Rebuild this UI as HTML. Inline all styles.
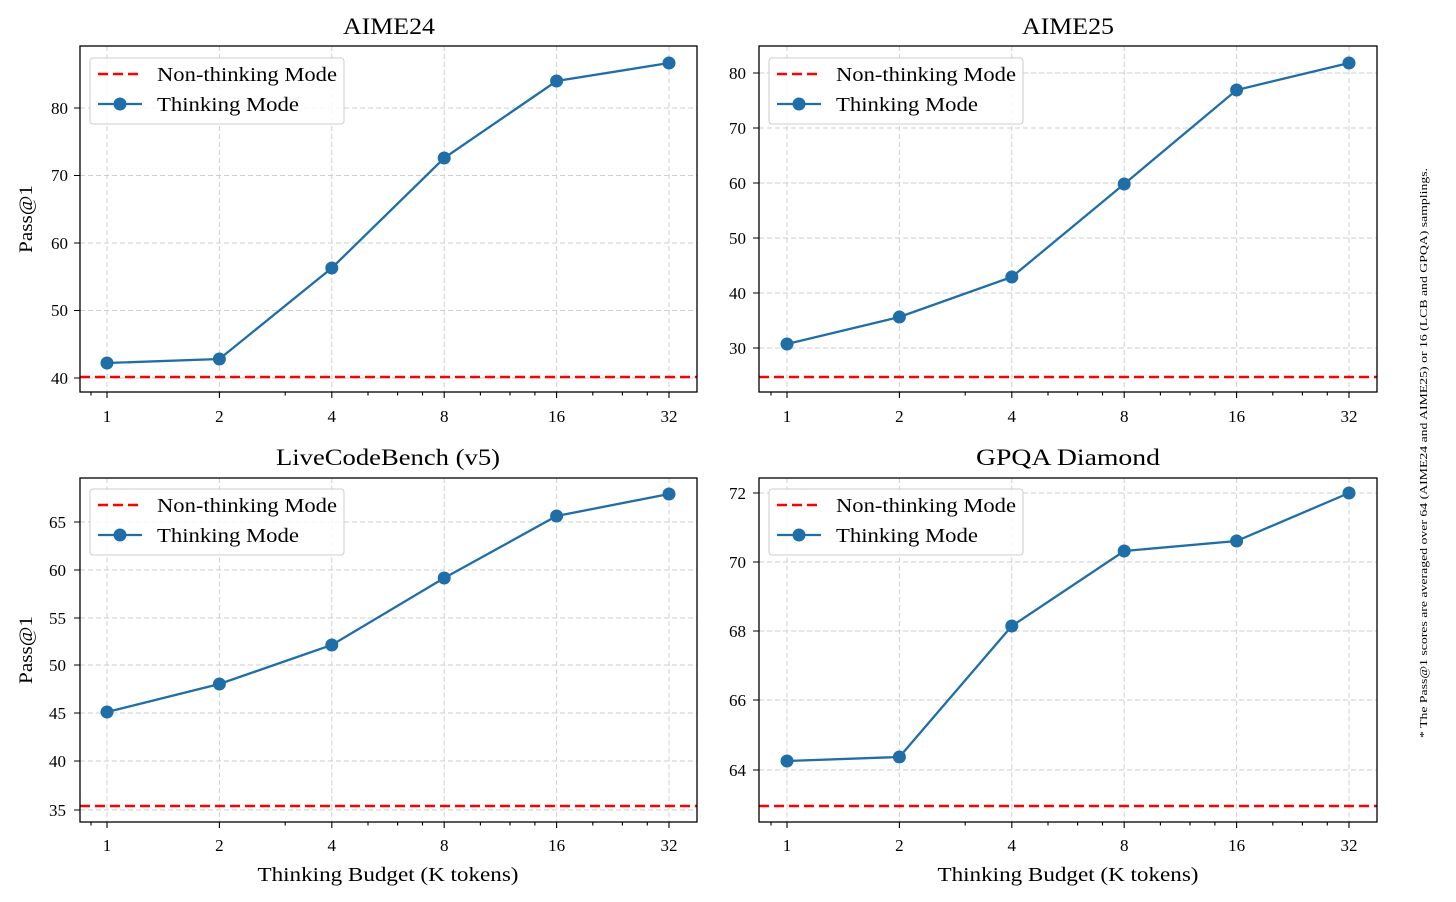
<!DOCTYPE html>
<html><head><meta charset="utf-8"><style>
body{margin:0;background:#fff}
svg{display:block;font-family:"Liberation Serif","DejaVu Serif",serif}
.g{stroke:#cfcfcf;stroke-width:1;stroke-dasharray:5,3}
.ax{fill:none;stroke:#000;stroke-width:1.3}
.tk{stroke:#000;stroke-width:1.1}
.tl{font-size:17px;text-anchor:middle}
.yl{font-size:17px;text-anchor:end}
.ti{font-size:23px;text-anchor:middle}
.rd{stroke:#f00;stroke-width:2.5;stroke-dasharray:10,5}
.ln{fill:none;stroke:#1f6ea8;stroke-width:2.3}
.mk{fill:#1f6ea8}
.lg{fill:#fff;fill-opacity:.85;stroke:#ccc;stroke-width:1}
.lt{font-size:20px}
</style></head><body>
<svg width="1456" height="902" viewBox="0 0 1456 902">
<defs>
<g id="xg">
<line class="g" x1="107" y1="0" x2="107" y2="346"/><line class="g" x1="219.4" y1="0" x2="219.4" y2="346"/><line class="g" x1="331.8" y1="0" x2="331.8" y2="346"/><line class="g" x1="444.2" y1="0" x2="444.2" y2="346"/><line class="g" x1="556.6" y1="0" x2="556.6" y2="346"/><line class="g" x1="669" y1="0" x2="669" y2="346"/>
</g>
<g id="xt">
<path class="tk" d="M107 346v6M219.4 346v6M331.8 346v6M444.2 346v6M556.6 346v6M669 346v6M91 346v3.5M285.2 346v3.5M368 346v3.5M397.6 346v3.5M422.5 346v3.5M480.4 346v3.5M510 346v3.5M534.9 346v3.5M592.8 346v3.5M622.4 346v3.5M647.3 346v3.5"/>
</g>
<g id="leg">
<rect class="lg" x="0" y="0" width="254" height="66" rx="3"/>
<line x1="8" y1="16" x2="52" y2="16" stroke="#f00" stroke-width="2.5" stroke-dasharray="10,5"/>
<line x1="8" y1="46" x2="52" y2="46" stroke="#1f6ea8" stroke-width="2.3"/>
<circle cx="30" cy="46" r="6.5" fill="#1f6ea8"/>
</g>
</defs>

<!-- Panel 1 -->
<g transform="translate(0,46)"><use href="#xg"/><use href="#xt"/></g>
<path class="g" d="M80 108H697M80 175.5H697M80 243H697M80 310.5H697M80 378H697"/>
<line class="rd" x1="80" y1="377" x2="697" y2="377"/>
<polyline class="ln" points="107,363 219.4,359 331.8,268 444.2,158 556.6,81 669,63"/>
<g class="mk"><circle cx="107" cy="363" r="6.5"/><circle cx="219.4" cy="359" r="6.5"/><circle cx="331.8" cy="268" r="6.5"/><circle cx="444.2" cy="158" r="6.5"/><circle cx="556.6" cy="81" r="6.5"/><circle cx="669" cy="63" r="6.5"/></g>
<rect class="ax" x="80" y="46" width="617" height="346"/>
<path class="tk" d="M74 108h6M74 175.5h6M74 243h6M74 310.5h6M74 378h6"/>
<g class="yl"><text x="68" y="114">80</text><text x="68" y="181">70</text><text x="68" y="249">60</text><text x="68" y="316">50</text><text x="68" y="384">40</text></g>
<g class="tl"><text x="107" y="422">1</text><text x="219.4" y="422">2</text><text x="331.8" y="422">4</text><text x="444.2" y="422">8</text><text x="556.6" y="422">16</text><text x="669" y="422">32</text></g>
<text class="ti" x="389" y="34" textLength="92" lengthAdjust="spacingAndGlyphs">AIME24</text>
<text font-size="19" transform="translate(32,219) rotate(-90)" text-anchor="middle" textLength="68" lengthAdjust="spacingAndGlyphs">Pass@1</text>
<use href="#leg" x="90" y="58"/>
<text class="lt" x="157" y="81" textLength="180" lengthAdjust="spacingAndGlyphs">Non-thinking Mode</text><text class="lt" x="157" y="111" textLength="142" lengthAdjust="spacingAndGlyphs">Thinking Mode</text>

<!-- Panel 2 -->
<g transform="translate(680,46)"><use href="#xg"/><use href="#xt"/></g>
<path class="g" d="M759 73H1377M759 128H1377M759 183H1377M759 238H1377M759 293H1377M759 348H1377"/>
<line class="rd" x1="759" y1="377" x2="1377" y2="377"/>
<polyline class="ln" points="787,344 899.4,317 1011.8,277 1124.2,184 1236.6,90 1349,63"/>
<g class="mk"><circle cx="787" cy="344" r="6.5"/><circle cx="899.4" cy="317" r="6.5"/><circle cx="1011.8" cy="277" r="6.5"/><circle cx="1124.2" cy="184" r="6.5"/><circle cx="1236.6" cy="90" r="6.5"/><circle cx="1349" cy="63" r="6.5"/></g>
<rect class="ax" x="759" y="46" width="618" height="346"/>
<path class="tk" d="M753 73h6M753 128h6M753 183h6M753 238h6M753 293h6M753 348h6"/>
<g class="yl"><text x="746" y="79">80</text><text x="746" y="134">70</text><text x="746" y="189">60</text><text x="746" y="244">50</text><text x="746" y="299">40</text><text x="746" y="354">30</text></g>
<g class="tl"><text x="787" y="422">1</text><text x="899.4" y="422">2</text><text x="1011.8" y="422">4</text><text x="1124.2" y="422">8</text><text x="1236.6" y="422">16</text><text x="1349" y="422">32</text></g>
<text class="ti" x="1068" y="34" textLength="92" lengthAdjust="spacingAndGlyphs">AIME25</text>
<use href="#leg" x="769" y="58"/>
<text class="lt" x="836" y="81" textLength="180" lengthAdjust="spacingAndGlyphs">Non-thinking Mode</text><text class="lt" x="836" y="111" textLength="142" lengthAdjust="spacingAndGlyphs">Thinking Mode</text>

<!-- Panel 3 -->
<g transform="translate(0,478) scale(1,0.994)"><use href="#xg"/></g>
<g transform="translate(0,476)"><use href="#xt"/></g>
<path class="g" d="M80 522H697M80 570H697M80 618H697M80 665H697M80 713H697M80 761H697M80 810H697"/>
<line class="rd" x1="80" y1="806" x2="697" y2="806"/>
<polyline class="ln" points="107,712 219.4,684 331.8,645 444.2,578 556.6,516 669,494"/>
<g class="mk"><circle cx="107" cy="712" r="6.5"/><circle cx="219.4" cy="684" r="6.5"/><circle cx="331.8" cy="645" r="6.5"/><circle cx="444.2" cy="578" r="6.5"/><circle cx="556.6" cy="516" r="6.5"/><circle cx="669" cy="494" r="6.5"/></g>
<rect class="ax" x="80" y="478" width="617" height="344"/>
<path class="tk" d="M74 522h6M74 570h6M74 618h6M74 665h6M74 713h6M74 761h6M74 810h6"/>
<g class="yl"><text x="66" y="528">65</text><text x="66" y="576">60</text><text x="66" y="624">55</text><text x="66" y="671">50</text><text x="66" y="719">45</text><text x="66" y="767">40</text><text x="66" y="816">35</text></g>
<g class="tl"><text x="107" y="851">1</text><text x="219.4" y="851">2</text><text x="331.8" y="851">4</text><text x="444.2" y="851">8</text><text x="556.6" y="851">16</text><text x="669" y="851">32</text></g>
<text class="ti" x="388" y="465" textLength="224" lengthAdjust="spacingAndGlyphs">LiveCodeBench (v5)</text>
<text font-size="19" transform="translate(32,650) rotate(-90)" text-anchor="middle" textLength="68" lengthAdjust="spacingAndGlyphs">Pass@1</text>
<text x="388" y="881" font-size="20" text-anchor="middle" textLength="261" lengthAdjust="spacingAndGlyphs">Thinking Budget (K tokens)</text>
<use href="#leg" x="90" y="489"/>
<text class="lt" x="157" y="512" textLength="180" lengthAdjust="spacingAndGlyphs">Non-thinking Mode</text><text class="lt" x="157" y="542" textLength="142" lengthAdjust="spacingAndGlyphs">Thinking Mode</text>

<!-- Panel 4 -->
<g transform="translate(680,478) scale(1,0.994)"><use href="#xg"/></g>
<g transform="translate(680,476)"><use href="#xt"/></g>
<path class="g" d="M759 493H1377M759 562H1377M759 631H1377M759 700H1377M759 770H1377"/>
<line class="rd" x1="759" y1="806" x2="1377" y2="806"/>
<polyline class="ln" points="787,761 899.4,757 1011.8,626 1124.2,551 1236.6,541 1349,493"/>
<g class="mk"><circle cx="787" cy="761" r="6.5"/><circle cx="899.4" cy="757" r="6.5"/><circle cx="1011.8" cy="626" r="6.5"/><circle cx="1124.2" cy="551" r="6.5"/><circle cx="1236.6" cy="541" r="6.5"/><circle cx="1349" cy="493" r="6.5"/></g>
<rect class="ax" x="759" y="478" width="618" height="344"/>
<path class="tk" d="M753 493h6M753 562h6M753 631h6M753 700h6M753 770h6"/>
<g class="yl"><text x="746" y="499">72</text><text x="746" y="568">70</text><text x="746" y="637">68</text><text x="746" y="706">66</text><text x="746" y="776">64</text></g>
<g class="tl"><text x="787" y="851">1</text><text x="899.4" y="851">2</text><text x="1011.8" y="851">4</text><text x="1124.2" y="851">8</text><text x="1236.6" y="851">16</text><text x="1349" y="851">32</text></g>
<text class="ti" x="1068" y="465" textLength="184" lengthAdjust="spacingAndGlyphs">GPQA Diamond</text>
<text x="1068" y="881" font-size="20" text-anchor="middle" textLength="261" lengthAdjust="spacingAndGlyphs">Thinking Budget (K tokens)</text>
<use href="#leg" x="769" y="489"/>
<text class="lt" x="836" y="512" textLength="180" lengthAdjust="spacingAndGlyphs">Non-thinking Mode</text><text class="lt" x="836" y="542" textLength="142" lengthAdjust="spacingAndGlyphs">Thinking Mode</text>

<text font-size="11" text-anchor="middle" transform="translate(1427,453) rotate(-90)" textLength="570" lengthAdjust="spacingAndGlyphs">* The Pass@1 scores are averaged over 64 (AIME24 and AIME25) or 16 (LCB and GPQA) samplings.</text>
</svg>
</body></html>
